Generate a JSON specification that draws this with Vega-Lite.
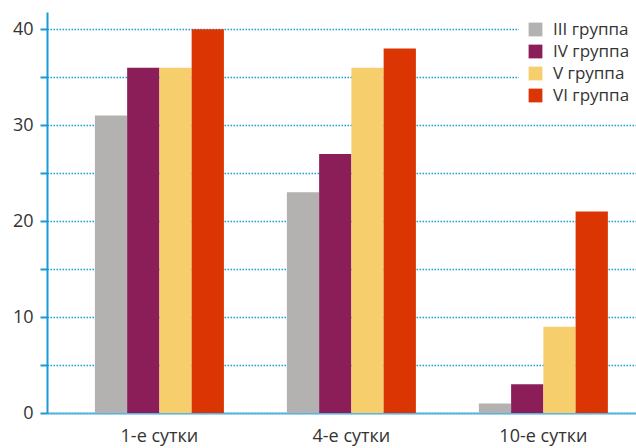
{
  "$schema": "https://vega.github.io/schema/vega-lite/v6.json",
  "width": 589,
  "height": 401,
  "autosize": "none",
  "padding": {"left": 47, "top": 12, "right": 0, "bottom": 35},
  "background": "white",
  "config": {
    "view": {"stroke": null},
    "font": "Open Sans"
  },
  "data": {
    "values": [
      {"day": "1-е сутки", "group": "III группа", "value": 31},
      {"day": "1-е сутки", "group": "IV группа", "value": 36},
      {"day": "1-е сутки", "group": "V группа", "value": 36},
      {"day": "1-е сутки", "group": "VI группа", "value": 40},
      {"day": "4-е сутки", "group": "III группа", "value": 23},
      {"day": "4-е сутки", "group": "IV группа", "value": 27},
      {"day": "4-е сутки", "group": "V группа", "value": 36},
      {"day": "4-е сутки", "group": "VI группа", "value": 38},
      {"day": "10-е сутки", "group": "III группа", "value": 1},
      {"day": "10-е сутки", "group": "IV группа", "value": 3},
      {"day": "10-е сутки", "group": "V группа", "value": 9},
      {"day": "10-е сутки", "group": "VI группа", "value": 21}
    ]
  },
  "mark": {"type": "bar"},
  "encoding": {
    "x": {
      "field": "day",
      "type": "nominal",
      "sort": ["1-е сутки", "4-е сутки", "10-е сутки"],
      "scale": {"paddingInner": 0.328, "paddingOuter": 0.198, "align": 0.63},
      "axis": {
        "title": null,
        "labelAngle": 0,
        "ticks": false,
        "labelPadding": 14,
        "labelFontSize": 18,
        "labelColor": "#333333",
        "labelFont": "Open Sans",
        "domainColor": "#5ab4e2",
        "domainWidth": 2
      }
    },
    "xOffset": {
      "field": "group",
      "type": "nominal",
      "sort": ["III группа", "IV группа", "V группа", "VI группа"],
      "scale": {"paddingInner": 0, "paddingOuter": 0}
    },
    "y": {
      "field": "value",
      "type": "quantitative",
      "scale": {"domain": [0, 41.8], "nice": false},
      "axis": {
        "title": null,
        "values": [0, 5, 10, 15, 20, 25, 30, 35, 40],
        "labelExpr": "datum.value % 10 === 0 ? datum.label : ''",
        "labelFontSize": 18,
        "labelColor": "#333333",
        "labelFont": "Open Sans",
        "labelPadding": 7,
        "tickSize": 7,
        "tickColor": "#1b9ad8",
        "tickWidth": 2,
        "domainColor": "#1b9ad8",
        "domainWidth": 2,
        "grid": true,
        "gridColor": "#1b9ad8",
        "gridDash": [1.5, 1.5],
        "gridWidth": 1.5
      }
    },
    "color": {
      "field": "group",
      "type": "nominal",
      "sort": ["III группа", "IV группа", "V группа", "VI группа"],
      "scale": {
        "domain": ["III группа", "IV группа", "V группа", "VI группа"],
        "range": ["#b3b2b1", "#8b1d59", "#f7ce6c", "#da3502"]
      },
      "legend": {
        "title": null,
        "orient": "none",
        "legendX": 472,
        "legendY": 1,
        "padding": 8,
        "fillColor": "white",
        "symbolType": "square",
        "symbolSize": 190,
        "symbolStrokeWidth": 0,
        "labelFontSize": 17,
        "labelColor": "#333333",
        "labelFont": "Open Sans",
        "labelOffset": 9,
        "rowPadding": 4
      }
    }
  }
}
